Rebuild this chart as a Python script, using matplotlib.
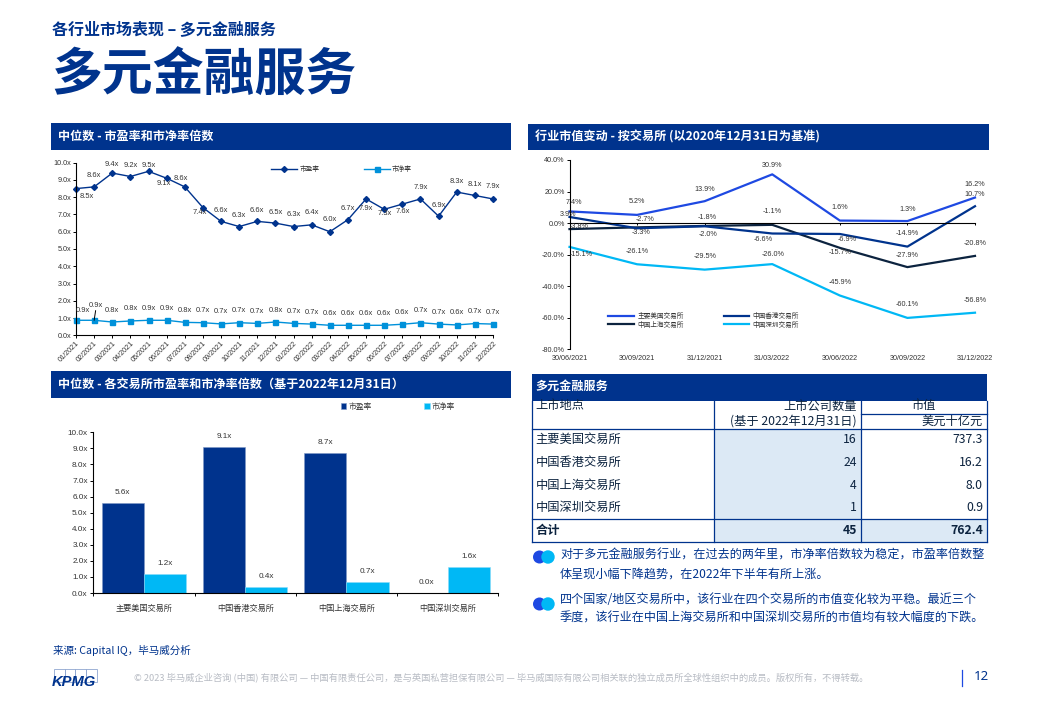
import numpy as np
import matplotlib
matplotlib.use("Agg")
import matplotlib.pyplot as plt
from matplotlib.patches import Rectangle, Circle

W, H = 1040, 720
NAVY = "#00338D"
BLUE = "#1E49E2"
CYAN = "#00B8F5"
INK = "#0C233F"
GREY = "#333333"
CJK = ["Noto Sans CJK SC", "DejaVu Sans"]
LATIN = ["Liberation Sans", "Noto Sans CJK SC"]

# monthly medians
months = ["01/2021", "02/2021", "03/2021", "04/2021", "05/2021", "06/2021", "07/2021", "08/2021",
          "09/2021", "10/2021", "11/2021", "12/2021", "01/2022", "02/2022", "03/2022", "04/2022",
          "05/2022", "06/2022", "07/2022", "08/2022", "09/2022", "10/2022", "11/2022", "12/2022"]
pe_monthly = [8.5, 8.6, 9.4, 9.2, 9.5, 9.1, 8.6, 7.4, 6.6, 6.3, 6.6, 6.5,
              6.3, 6.4, 6.0, 6.7, 7.9, 7.3, 7.6, 7.9, 6.9, 8.3, 8.1, 7.9]
pb_monthly = [0.87, 0.87, 0.77, 0.83, 0.87, 0.87, 0.75, 0.73, 0.66, 0.73, 0.69, 0.77,
              0.69, 0.65, 0.58, 0.58, 0.58, 0.58, 0.64, 0.73, 0.65, 0.60, 0.68, 0.65]

# market cap change by exchange
quarters = ["30/06/2021", "30/09/2021", "31/12/2021", "31/03/2022", "30/06/2022", "30/09/2022", "31/12/2022"]
us_change = [7.4, 5.2, 13.9, 30.9, 1.6, 1.3, 16.2]
hk_change = [3.9, -3.3, -2.0, -6.6, -6.9, -14.9, 10.7]
sh_change = [-3.8, -2.7, -1.8, -1.1, -15.7, -27.9, -20.8]
sz_change = [-15.1, -26.1, -29.5, -26.0, -45.9, -60.1, -56.8]

# by exchange at 2022-12-31
exchanges = ["主要美国交易所", "中国香港交易所", "中国上海交易所", "中国深圳交易所"]
pe_exchange = [5.6, 9.1, 8.7, 0.0]
pb_exchange = [1.2, 0.4, 0.7, 1.6]

# table
company_counts = ["16", "24", "4", "1"]
market_caps = ["737.3", "16.2", "8.0", "0.9"]
total_count = "45"
total_cap = "762.4"

# label offsets in pixels (dx, dy), dy down
pe_offsets = [(11, 8), (0, -11), (0, -9), (0, -11), (0, -6), (-3, 5), (-4, -8), (-3, 5),
              (0, -11), (0, -11), (0, -11), (0, -11), (0, -12), (0, -12), (0, -12), (0, -11),
              (0, 10), (0, 4), (0, 7), (0, -11), (0, -11), (0, -11), (0, -11), (0, -12)]
us_offsets = [(4, -9), (0, -13), (0, -12), (0, -9), (0, -13), (0, -12), (0, -13)]
hk_offsets = [(-1, -2), (4, 4), (3, 8), (-9, 6), (7, 6), (0, -13), (0, -12)]
sh_offsets = [(10, -3), (8, -8), (3, -8), (0, -13), (0, 5), (0, -12), (0, -12)]
sz_offsets = [(12, 8), (0, -13), (0, -13), (1, -10), (0, -13), (0, -13), (0, -12)]


def px_axes(fig, left, top, right, bottom):
    return fig.add_axes([left / W, 1 - bottom / H, (right - left) / W, (bottom - top) / H])


def style_axes(ax):
    for side in ["top", "right"]:
        ax.spines[side].set_visible(False)
    for side in ["left", "bottom"]:
        ax.spines[side].set_linewidth(0.8)
    ax.patch.set_alpha(0)


def point_label(ax, x, y, text, dx, dy, size):
    ax.annotate(text, xy=(x, y), xytext=(dx * 0.72, -dy * 0.72), textcoords="offset points",
                ha="center", va="center", fontsize=size, color=GREY, family=LATIN)


def banner(bg, left, top, right, bottom, text, pad=7):
    bg.add_patch(Rectangle((left, top), right - left, bottom - top, color=NAVY, lw=0))
    bg.text(left + pad, (top + bottom) / 2 - 0.5, text, color="white", fontsize=8.7, weight="bold",
            va="center", family=CJK)


fig = plt.figure(figsize=(W / 100, H / 100), dpi=100)
bg = fig.add_axes([0, 0, 1, 1])
bg.set_xlim(0, W)
bg.set_ylim(H, 0)
bg.axis("off")

# headers
bg.text(52, 29, "各行业市场表现 – 多元金融服务", color=NAVY, fontsize=11.5, weight="bold", va="center", family=CJK)
bg.text(51, 75.5, "多元金融服务", color=NAVY, fontsize=36.6, weight=900, va="center", family=CJK)
banner(bg, 51, 123, 511, 150, "中位数 - 市盈率和市净率倍数")
banner(bg, 528, 124, 989, 150, "行业市值变动 - 按交易所 (以2020年12月31日为基准)")
banner(bg, 51, 371, 511, 398, "中位数 - 各交易所市盈率和市净率倍数（基于2022年12月31日）")
banner(bg, 532, 374, 987, 400.5, "多元金融服务", pad=3)

# chart 1
ax1 = px_axes(fig, 76, 162.7, 493, 335.3)
style_axes(ax1)
x1 = np.arange(len(months))
ax1.plot(x1, pe_monthly, color=NAVY, lw=1.0, marker="D", ms=3, clip_on=False, label="市盈率")
ax1.plot(x1, pb_monthly, color="#0091DA", lw=1.0, marker="s", ms=3.6, clip_on=False, label="市净率")
ax1.set_xlim(0, len(months) - 1)
ax1.set_ylim(0, 10)
ax1.set_yticks(np.arange(0, 10.5, 1))
ax1.set_yticklabels([f"{v:.1f}x" for v in np.arange(0, 10.5, 1)], fontsize=5.2, color=GREY, family=LATIN)
ax1.set_xticks(x1)
ax1.set_xticklabels(months, fontsize=5.2, color=GREY, family=LATIN, rotation=45, ha="right", rotation_mode="anchor")
ax1.tick_params(axis="both", length=2, width=0.7, pad=1.5)
for i, v in enumerate(pe_monthly):
    point_label(ax1, i, v, f"{v:.1f}x", pe_offsets[i][0], pe_offsets[i][1], 5.4)
for i, v in enumerate(pb_monthly):
    dx, dy = (7, -10) if i == 0 else (2, -15) if i == 1 else (0, -12)
    point_label(ax1, i, v, f"{v:.1f}x", dx, dy, 5.4)
ax1.annotate("", xy=(1, pb_monthly[1]), xytext=(1.5 * 0.72, 7), textcoords=("offset points"),
             arrowprops=dict(arrowstyle="-", color="black", lw=0.7, shrinkA=0, shrinkB=0))
ax1.legend(loc="center", bbox_to_anchor=(341.5, 169.7), bbox_transform=bg.transData, ncols=2, frameon=False,
           borderpad=0, handlelength=3.9, handletextpad=0.35, columnspacing=6.6,
           prop={"family": LATIN, "size": 4.8}, labelcolor=GREY)

# chart 2
ax2 = px_axes(fig, 569.5, 160, 975, 349.3)
style_axes(ax2)
x2 = np.arange(len(quarters))
series2 = [("主要美国交易所", us_change, BLUE, us_offsets), ("中国上海交易所", sh_change, INK, sh_offsets),
           ("中国香港交易所", hk_change, NAVY, hk_offsets), ("中国深圳交易所", sz_change, CYAN, sz_offsets)]
for name, values, colour, offsets in series2:
    ax2.plot(x2, values, color=colour, lw=1.6, label=name, clip_on=False)
    for i, v in enumerate(values):
        point_label(ax2, i, v, f"{v:.1f}%", offsets[i][0], offsets[i][1], 5.2)
ax2.set_xlim(0, len(quarters) - 1)
ax2.set_ylim(-80, 40)
ax2.spines["bottom"].set_position(("data", 0))
ax2.set_yticks(np.arange(-80, 41, 20))
ax2.set_yticklabels([f"{v:.1f}%" for v in np.arange(-80, 41, 20)], fontsize=5.2, color=GREY, family=LATIN)
ax2.set_xticks(x2)
ax2.set_xticklabels(quarters, fontsize=5.2, color=GREY, family=LATIN)
ax2.tick_params(axis="y", length=2, width=0.7, pad=1.5)
ax2.tick_params(axis="x", length=1.5, width=0.7, pad=93.5)
ax2.legend(loc="center", bbox_to_anchor=(703.5, 320.8), bbox_transform=bg.transData, ncols=2, frameon=False,
           borderpad=0, handlelength=3.8, handletextpad=0.5, columnspacing=6.0, labelspacing=0.25,
           prop={"family": LATIN, "size": 4.8}, labelcolor=GREY)

# chart 3
ax3 = px_axes(fig, 93.3, 432.3, 498.3, 593)
style_axes(ax3)
x3 = np.arange(len(exchanges))
bar_w = 0.418
ax3.bar(x3 - bar_w / 2, pe_exchange, bar_w, color=NAVY, edgecolor="#7F99C6", lw=0.4, label="市盈率")
ax3.bar(x3 + bar_w / 2, pb_exchange, bar_w, color=CYAN, edgecolor="#8ADCFA", lw=0.4, label="市净率")
ax3.set_xlim(-0.5, len(exchanges) - 0.5)
ax3.set_ylim(0, 10)
ax3.set_yticks(np.arange(0, 10.5, 1))
ax3.set_yticklabels([f"{v:.1f}x" for v in np.arange(0, 10.5, 1)], fontsize=5.9, color=GREY, family=LATIN)
ax3.set_xticks(np.arange(-0.5, len(exchanges)))
ax3.set_xticklabels([])
ax3.set_xticks(x3, minor=True)
ax3.set_xticklabels(exchanges, minor=True, fontsize=5.9, color=GREY, family=LATIN)
ax3.tick_params(axis="both", which="major", length=2.5, width=0.7, pad=1.5)
ax3.tick_params(axis="x", which="minor", length=0, pad=8.5)
for i in x3:
    point_label(ax3, i - bar_w / 2, pe_exchange[i], f"{pe_exchange[i]:.1f}x", 0, -10.5, 5.9)
    point_label(ax3, i + bar_w / 2, pb_exchange[i], f"{pb_exchange[i]:.1f}x", 0, -10.5, 5.9)
ax3.legend(loc="center", bbox_to_anchor=(398, 406.7), bbox_transform=bg.transData, ncols=2, frameon=False,
           borderpad=0, handlelength=0.7, handleheight=0.7, handletextpad=0.3, columnspacing=6.7,
           prop={"family": LATIN, "size": 5.6}, labelcolor=GREY)

# table
col_l, col_a, col_b, col_r = 531.5, 714, 861.3, 987
head_b, total_t, table_b = 428.7, 519.3, 542.3
bg.add_patch(Rectangle((col_a, head_b), col_b - col_a, table_b - head_b, color="#DCE9F5", lw=0))
bg.add_patch(Rectangle((col_b, total_t), col_r - col_b, table_b - total_t, color="#DCE9F5", lw=0))
for x in [col_l, col_a, col_b, col_r]:
    bg.plot([x, x], [400.5, table_b], color=NAVY, lw=0.9)
for y in [head_b, total_t, table_b]:
    bg.plot([col_l, col_r], [y, y], color=NAVY, lw=0.9)
bg.plot([col_b, col_r], [414.3, 414.3], color=NAVY, lw=0.9)
row_y = [439.3, 462.5, 485.3, 507.5]
table_text = dict(fontsize=8.8, color=INK, va="center", family=CJK)
bg.text(535.5, 406, "上市地点", ha="left", **table_text)
bg.text(857, 406, "上市公司数量", ha="right", **table_text)
bg.text(857, 421, "(基于 2022年12月31日)", ha="right", **table_text)
bg.text(924, 406, "市值", ha="center", **table_text)
bg.text(983, 421, "美元十亿元", ha="right", **table_text)
for y, name, count, cap in zip(row_y, exchanges, company_counts, market_caps):
    bg.text(535.5, y, name, ha="left", **table_text)
    bg.text(857, y, count, ha="right", **table_text)
    bg.text(983, y, cap, ha="right", **table_text)
bg.text(535.5, 530.5, "合计", ha="left", weight="bold", **table_text)
bg.text(857, 530.5, total_count, ha="right", weight="bold", **table_text)
bg.text(983, 530.5, total_cap, ha="right", weight="bold", **table_text)

# commentary
for y in [557, 604]:
    bg.add_patch(Circle((539.5, y), 6.5, color=BLUE, lw=0))
    bg.add_patch(Circle((548, y), 6.7, color=CYAN, lw=0))
notes = [(555, "对于多元金融服务行业，在过去的两年里，市净率倍数较为稳定，市盈率倍数整"),
         (573.7, "体呈现小幅下降趋势，在2022年下半年有所上涨。"),
         (599.3, "四个国家/地区交易所中，该行业在四个交易所的市值变化较为平稳。最近三个"),
         (618, "季度，该行业在中国上海交易所和中国深圳交易所的市值均有较大幅度的下跌。")]
for y, line in notes:
    bg.text(560, y, line, color=NAVY, fontsize=8.7, va="center", family=CJK)

# footer
bg.text(53, 650.5, "来源: Capital IQ，毕马威分析", color=NAVY, fontsize=7.6, va="center", family=CJK)
for i in range(4):
    bg.add_patch(Rectangle((54 + i * 10.7, 669), 10.7, 13, fill=False, edgecolor="#8FA6D0", lw=0.6))
bg.text(51.5, 681.5, "KPMG", color=NAVY, fontsize=10.6, weight="bold", style="italic", va="center",
        family=["Liberation Sans"])
bg.text(134, 678, "© 2023 毕马威企业咨询 (中国) 有限公司 — 中国有限责任公司，是与英国私营担保有限公司 — "
        "毕马威国际有限公司相关联的独立成员所全球性组织中的成员。版权所有，不得转载。",
        color="#B8BCC4", fontsize=6.7, va="center", family=CJK)
bg.plot([961.7, 961.7], [670, 686], color=BLUE, lw=0.9)
bg.text(974, 677, "12", color=NAVY, fontsize=9.5, va="center", family=["Noto Sans"])

fig.savefig("out.png", dpi=100)
